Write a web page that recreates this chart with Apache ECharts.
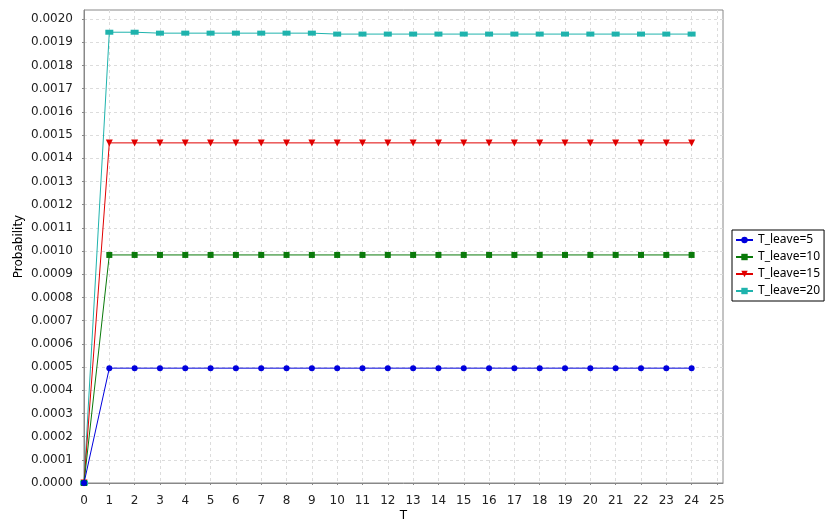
<!DOCTYPE html>
<html>
<head>
<meta charset="utf-8">
<script src="https://cdn.jsdelivr.net/npm/echarts@6/dist/echarts.min.js"></script>
<style>
html,body{margin:0;padding:0;background:#fff;}
#c{width:826px;height:530px;}
</style>
</head>
<body>
<div id="c"></div>
<script>
const T = [0,1,2,3,4,5,6,7,8,9,10,11,12,13,14,15,16,17,18,19,20,21,22,23,24];
const xTicks = [0,1,2,3,4,5,6,7,8,9,10,11,12,13,14,15,16,17,18,19,20,21,22,23,24,25];
const yTicks = [0,0.0001,0.0002,0.0003,0.0004,0.0005,0.0006,0.0007,0.0008,0.0009,0.0010,0.0011,0.0012,0.0013,0.0014,0.0015,0.0016,0.0017,0.0018,0.0019,0.0020];
const seriesNames = ['T_leave=5','T_leave=10','T_leave=15','T_leave=20'];
const leave5  = [0,0.000495,0.000495,0.000495,0.000495,0.000495,0.000495,0.000495,0.000495,0.000495,0.000495,0.000495,0.000495,0.000495,0.000495,0.000495,0.000495,0.000495,0.000495,0.000495,0.000495,0.000495,0.000495,0.000495,0.000495];
const leave10 = [0,0.000983,0.000983,0.000983,0.000983,0.000983,0.000983,0.000983,0.000983,0.000983,0.000983,0.000983,0.000983,0.000983,0.000983,0.000983,0.000983,0.000983,0.000983,0.000983,0.000983,0.000983,0.000983,0.000983,0.000983];
const leave15 = [0,0.001466,0.001466,0.001466,0.001466,0.001466,0.001466,0.001466,0.001466,0.001466,0.001466,0.001466,0.001466,0.001466,0.001466,0.001466,0.001466,0.001466,0.001466,0.001466,0.001466,0.001466,0.001466,0.001466,0.001466];
const leave20 = [0,0.001943,0.001943,0.001939,0.001939,0.001939,0.001939,0.001939,0.001939,0.001939,0.001935,0.001935,0.001935,0.001935,0.001935,0.001935,0.001935,0.001935,0.001935,0.001935,0.001935,0.001935,0.001935,0.001935,0.001935];
const allValues = [leave5, leave10, leave15, leave20];

const colors = ['#0000dd','#0a7a0a','#e00000','#1fb3ad'];
const symbols = ['circle','rect','triangle','rect'];
const symbolSizes = [6,6,7,[8,5]];
const symbolRotates = [0,0,180,0];

const font = 'DejaVu Sans';
const chart = echarts.init(document.getElementById('c'), null, {renderer:'canvas'});
chart.setOption({
  animation:false,
  backgroundColor:'#ffffff',
  textStyle:{fontFamily:font},
  grid:{left:84,right:103,top:10,bottom:47,show:true,borderColor:'#888888',borderWidth:1,backgroundColor:'#ffffff'},
  legend:{
    orient:'vertical',left:732,top:230,
    data:seriesNames,
    borderColor:'#000000',borderWidth:1,padding:[3,4,3,3],
    itemWidth:17,itemHeight:8,itemGap:3,
    textStyle:{fontFamily:'Noto Sans',fontSize:12,color:'#000',lineHeight:14}
  },
  xAxis:{
    type:'value',min:0,max:25.24,interval:1,offset:4,
    name:'T',nameLocation:'middle',nameGap:23,nameMoveOverlap:false,
    nameTextStyle:{fontFamily:font,fontSize:12,color:'#000'},
    axisLine:{show:true,lineStyle:{color:'#888888'}},
    axisTick:{show:true,length:2,lineStyle:{color:'#888888'},customValues:xTicks},
    axisLabel:{fontFamily:font,fontSize:12,color:'#222',margin:8,customValues:xTicks},
    splitLine:{show:true,lineStyle:{color:'#dcdcdc',type:[3,3],width:1}}
  },
  yAxis:{
    type:'value',min:0,max:0.0020388,interval:0.0001,offset:4,
    name:'Probability',nameLocation:'middle',nameGap:55,nameMoveOverlap:false,
    nameTextStyle:{fontFamily:font,fontSize:12,color:'#000'},
    axisLine:{show:true,lineStyle:{color:'#888888'}},
    axisTick:{show:true,length:2,lineStyle:{color:'#888888'},customValues:yTicks},
    axisLabel:{fontFamily:font,fontSize:12,color:'#222',margin:7,customValues:yTicks,
      formatter:function(v){return v.toFixed(4);}},
    splitLine:{show:true,lineStyle:{color:'#dcdcdc',type:[3,3],width:1}}
  },
  series: seriesNames.map(function(n,i){
    return {
      name:n,type:'line',
      data:T.map(function(t,k){return [t, allValues[i][k]];}),
      color:colors[i],
      symbol:symbols[i],symbolSize:symbolSizes[i],symbolRotate:symbolRotates[i],
      showAllSymbol:true,
      lineStyle:{width:1,color:colors[i]},
      itemStyle:{color:colors[i]},
      z:10-i
    };
  })
});
</script>
</body>
</html>
